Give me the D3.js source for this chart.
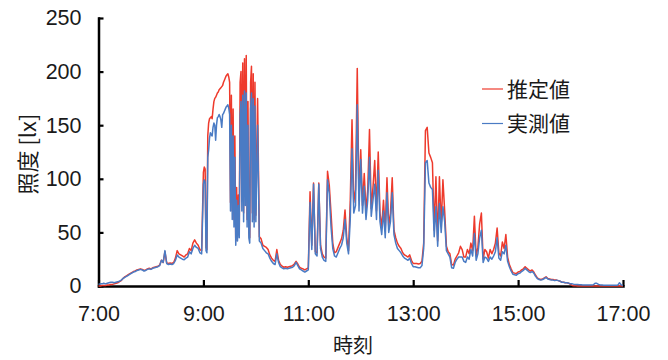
<!DOCTYPE html>
<html lang="ja">
<head>
<meta charset="utf-8">
<script src="https://cdn.jsdelivr.net/npm/d3@7"></script>
<style>
  html, body { margin: 0; padding: 0; background: #fff; }
  svg { display: block; }
  .tick text { font-family: "Liberation Sans", Arial, sans-serif; font-size: 21.5px; fill: #1a1a1a; }
  .jp { font-family: "Noto Sans CJK JP", sans-serif; fill: #1a1a1a; }
</style>
</head>
<body>
<svg id="chart" width="668" height="360"></svg>
<script>
// 推定値 / 実測値 per hour (7:00 .. 16:59). hour 9 is 1-min data, the rest 2-min
const est07 = [0,0,0.5,0.5,0.5,1,1,1.5,1.5,2,2.5,3,4,5,7,8.5,9.5,10.5,11.5,12.5,13.5,14,15,15.5,16,15.5,14.5,15,16,16.5];
const est08 = [16,17,17.5,18,18.5,19.5,24,22,32,21.5,21,21.5,21,22,26,33,30,29,28,27,29,30,35,33,40,43,40,38,34,33];
const est09 = [106,111,109,36,34, 140,152,156,157,158, 156,165,172,175,176, 178,180,181,183,184,
               185,186,187,190,192, 194,196,197,198,195, 190,78,178,70,165, 62,140,42,92,47,
               85,50,190,200,80, 208,68,212,86,215, 62,172,50,45,190, 205,68,198,62,190];
const est10 = [66,175,46,44,38,37,36,34,29,26,24,23,34,24,20,18.5,17.5,18,17.5,18,18.5,19,20.5,23,20.5,17.5,16.5,16,15,16];
const est11 = [17,88,38,96,32,31,96,38,30,27,26,107,94,68,40,31,32,36,40,44,52,71,45,33,80,155,78,90,203,80];
const est12 = [127,75,105,70,90,146,72,92,117,70,125,68,55,80,52,101,56,68,101,52,45,40,37,35,31,29,28,27,29,24];
const est13 = [21,21,21,20.5,21,23,40,145,148,124,120,115,52,102,42,102,56,99,70,37,32,30,20,19.5,25,28,31,37,34,27];
const est14 = [27,34,30,40,33,65,28,36,58,68,25,34,32,26,34,30,34,40,54,31,28,41,35,48,27,20,16,12.5,12,11.5];
const est15 = [13,13.5,15,16,18,16.5,15,14,15,13,10,7.5,6.5,6,6.5,7.5,8.5,7,6.5,6,6,5.5,5.5,5,4.5,3.5,3.5,3,3,2.5];
const est16 = [1.5,0.5,0.3,0.2,0,0,0,0,0,0,0,0,0,0,0,0,0,0,0,0,0,0,0,0,0,0,0,0,0.3,0];
const est17 = [0];

const meas07 = [1.5,2,2,2.5,2,2.5,3,3.5,3.5,3,3.5,4,4.5,5.5,7,8,9,10,11,12,13,13.5,14.5,15,15.5,15,14,14.5,15.5,16];
const meas08 = [15.5,16.5,17,17.5,18,19,24,22,33,21,20,20.5,20,21,24,29,27,26,25,24.5,26,27,32,30,35,38,36,35,31,30];
const meas09 = [95,99,97,33,31, 120,127,138,143,141, 140,148,152,150,136, 150,157,158,160,158,
                155,148,160,161,163, 165,167,168,169,166, 160,70,150,62,140, 55,120,38,80,42,
                75,45,160,172,70, 178,60,182,75,180, 55,150,45,40,165, 180,60,175,55,168];
const meas10 = [60,150,42,40,35,33,31,30,26,23,21,20,30,22,18,17,16,16.5,16,16.5,17,17.5,19,22,19,16,15,14,13,14];
const meas11 = [15,78,34,95,30,28,95,35,27,24,23,99,86,55,35,28,27,31,35,38,45,62,40,30,62,128,68,75,169,70];
const meas12 = [118,68,93,62,80,120,65,80,95,62,108,60,48,70,45,87,50,60,87,48,40,35,33,31,28,26,25,24,26,21];
const meas13 = [18,18,17.5,17,17,19,35,115,117,96,92,90,46,74,37,77,50,74,60,33,30,27,17,16.5,22,25,27,27,27,23];
const meas14 = [22,27,25,34,28,49,24,30,45,52,22,27,26,23,27,25,28,32,45,26,24,32,30,38,23,18,14,11,10.5,10];
const meas15 = [11.5,12,13.5,14.5,16.5,15,13.5,12.5,13.5,12,9,7,6,5.5,6,7,8,6.5,6,5.5,5.5,5,5.5,5,4.5,3.5,3.5,3,3,2.5];
const meas16 = [2,2,1.5,1.5,1.5,1.2,1.2,1,1,1,1,1,1,1.2,2.5,2.5,1.5,1,1,0.8,0.8,0.8,0.8,0.8,0.8,0.8,0.8,0.8,3,1];
const meas17 = [0.8];

const xTicks = [420, 540, 660, 780, 900, 1020];   // minutes of the day
const xTickLabels = ["7:00", "9:00", "11:00", "13:00", "15:00", "17:00"];
const yTicks = [0, 50, 100, 150, 200, 250];
const seriesNames = ["推定値", "実測値"];

const estHours = [est07, est08, est09, est10, est11, est12, est13, est14, est15, est16, est17];
const measHours = [meas07, meas08, meas09, meas10, meas11, meas12, meas13, meas14, meas15, meas16, meas17];

function toPoints(hours) {
  const pts = [];
  hours.forEach((vals, h) => {
    const step = 60 / vals.length;
    vals.forEach((v, j) => pts.push({ t: (7 + h) * 60 + j * step, v: v }));
  });
  return pts;
}

const colors = ["#ee3a2c", "#4a7bc4"];
const svg = d3.select("#chart");

const x = d3.scaleLinear().domain([420, 1020]).range([98.5, 623]);
const y = d3.scaleLinear().domain([0, 250]).range([286, 18]);

// axes
const gx = svg.append("g")
  .attr("transform", `translate(0,${y(0)})`)
  .call(d3.axisBottom(x).tickValues(xTicks).tickFormat((d, i) => xTickLabels[i])
    .tickSizeInner(-6).tickSizeOuter(0).tickPadding(20));

const gy = svg.append("g")
  .attr("transform", `translate(${x(420)},0)`)
  .call(d3.axisLeft(y).tickValues(yTicks).tickSizeInner(-5).tickSizeOuter(0).tickPadding(17));

[gx, gy].forEach(g => {
  g.select(".domain").attr("stroke", "#000").attr("stroke-width", 2.5).attr("stroke-linecap", "square");
  g.selectAll(".tick line").attr("stroke", "#000").attr("stroke-width", 2.2);
});

// lines
const line = d3.line()
  .x(d => x(d.t))
  .y(d => y(d.v));

[estHours, measHours].forEach((hours, i) => {
  svg.append("path")
    .datum(toPoints(hours))
    .attr("fill", "none")
    .attr("stroke", colors[i])
    .attr("stroke-width", 1.5)
    .attr("stroke-linejoin", "round")
    .attr("d", line);
});

// legend
const legend = svg.append("g").attr("transform", "translate(482,89)");
seriesNames.forEach((name, i) => {
  const row = legend.append("g").attr("transform", `translate(0,${i * 34.5})`);
  row.append("line")
    .attr("x1", 0).attr("x2", 21).attr("y1", 0).attr("y2", 0)
    .attr("stroke", colors[i]).attr("stroke-width", 1.2);
  row.append("text")
    .attr("class", "jp")
    .attr("x", 25).attr("dy", "0.37em")
    .style("font-size", "21px")
    .text(name);
});

// axis titles
svg.append("text")
  .attr("class", "jp")
  .attr("text-anchor", "middle")
  .attr("transform", "translate(27.5,154) rotate(-90)")
  .attr("dy", "0.37em")
  .style("font-size", "22px")
  .text("照度 [lx]");

svg.append("text")
  .attr("class", "jp")
  .attr("text-anchor", "middle")
  .attr("x", 353).attr("y", 346)
  .attr("dy", "0.37em")
  .style("font-size", "20px")
  .text("時刻");
</script>
</body>
</html>
